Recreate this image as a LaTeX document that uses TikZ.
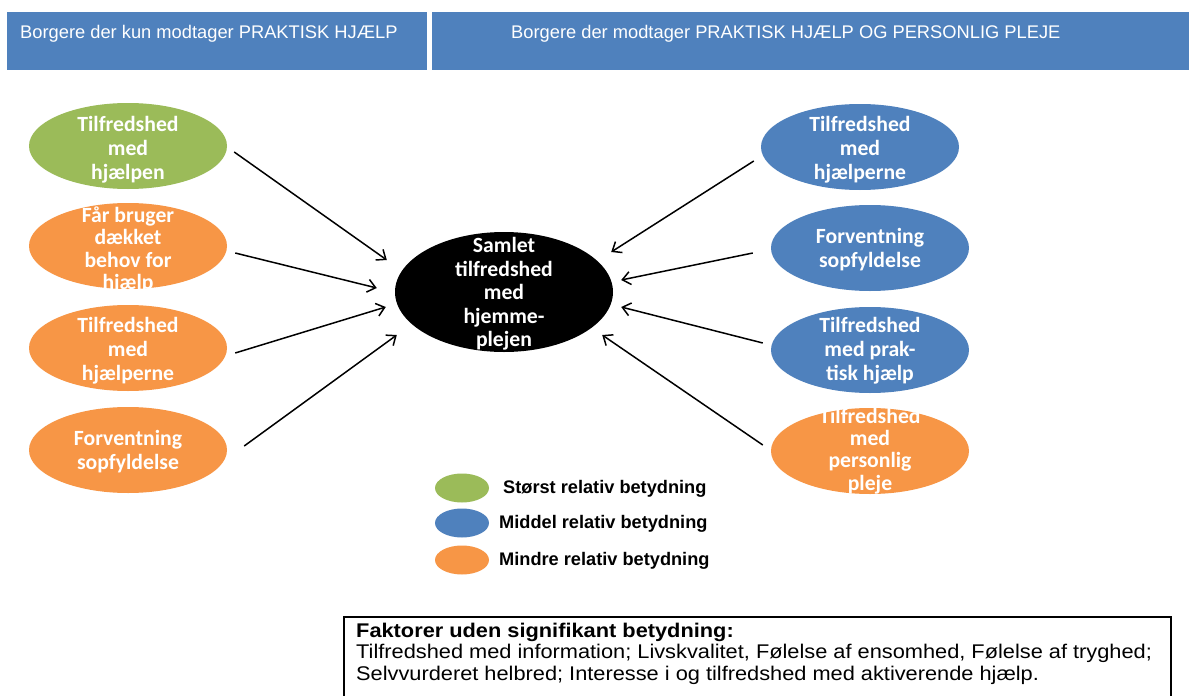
\documentclass[tikz,border=0pt]{standalone}
\usepackage{fontspec}
\setmainfont{Liberation Sans}
\newfontfamily\bubfont{Carlito}
\newfontfamily\notefont[FakeStretch=1.1]{Liberation Sans}
\usetikzlibrary{shapes.geometric,arrows.meta}
\definecolor{hgreen}{RGB}{155,187,89}
\definecolor{hblue}{RGB}{79,129,189}
\definecolor{horange}{RGB}{247,150,70}
\tikzset{
  headbar/.style={fill=hblue,draw=none},
  headtext/.style={anchor=base west,text=white,inner sep=0,font=\fontsize{18.3}{22}\selectfont},
  bub/.style={ellipse,draw=none,minimum width=198pt,minimum height=86pt,inner sep=0},
  bubtext/.style={text=white,align=center,inner sep=0,font=\bubfont\bfseries\fontsize{21.7}{24}\selectfont},
  bubtight/.style={bubtext,font=\bubfont\bfseries\fontsize{21.7}{22.4}\selectfont},
  flow/.style={-{Straight Barb[length=8pt,width=13pt]},line width=1.5pt,black},
  legdot/.style={ellipse,draw=none,minimum width=54pt,minimum height=29pt,inner sep=0},
  legtext/.style={anchor=west,inner sep=0,font=\bfseries\fontsize{18.2}{20}\selectfont},
  notetext/.style={anchor=base west,inner sep=0,font=\notefont\fontsize{19.8}{21.5}\selectfont},
}
\begin{document}
\begin{tikzpicture}[x=1pt,y=-1pt]
\useasboundingbox[fill=white] (0,0) rectangle (1189,696);

% column headers
\fill[headbar] (7,12) rectangle (427,70);
\fill[headbar] (432,12) rectangle (1189,70);
\node[headtext] (h1) at (20,38.5) {Borgere der kun modtager PRAKTISK HJÆLP};
\node[headtext] (h2) at (511,38.5) {Borgere der modtager PRAKTISK HJÆLP OG PERSONLIG PLEJE};

% central outcome
\node[bub,fill=black,minimum width=218pt,minimum height=120pt] (c) at (504,292) {};
\node[bubtext,font=\bubfont\bfseries\fontsize{21.7}{23.4}\selectfont] (ct) at ([yshift=-2]c.center) {Samlet\\tilfredshed\\med\\hjemme-\\plejen};

% left column: practical help only
\node[bub,fill=hgreen] (l1) at (128,146) {};
\node[bubtext] (l1t) at ([yshift=-3.5]l1.center) {Tilfredshed\\med\\hjælpen};
\node[bub,fill=horange] (l2) at (128,246) {};
\node[bubtight] (l2t) at ([yshift=-4]l2.center) {Får bruger\\dækket\\behov for\\hjælp};
\node[bub,fill=horange] (l3) at (128,348) {};
\node[bubtext] (l3t) at ([yshift=-3]l3.center) {Tilfredshed\\med\\hjælperne};
\node[bub,fill=horange] (l4) at (128,450) {};
\node[bubtext] (l4t) at ([yshift=-2]l4.center) {Forventning\\sopfyldelse};

% right column: practical help and personal care
\node[bub,fill=hblue] (r1) at (860,147) {};
\node[bubtext] (r1t) at ([yshift=-2.5]r1.center) {Tilfredshed\\med\\hjælperne};
\node[bub,fill=hblue] (r2) at (870,248) {};
\node[bubtext] (r2t) at ([yshift=-2]r2.center) {Forventning\\sopfyldelse};
\node[bub,fill=hblue] (r3) at (870,350) {};
\node[bubtext] (r3t) at ([yshift=-1]r3.center) {Tilfredshed\\med prak-\\tisk hjælp};
\node[bub,fill=horange] (r4) at (870,451) {};
\node[bubtight] (r4t) at (r4.center) {Tilfredshed\\med\\personlig\\pleje};

% influences on overall satisfaction
\draw[flow] ([shift={(7,6)}]l1.east) -- ([shift={(-8,-32)}]c.west);
\draw[flow] ([shift={(8,7)}]l2.east) -- ([shift={(-18,-4)}]c.west);
\draw[flow] ([shift={(8,5)}]l3.east) -- ([shift={(-9,15)}]c.west);
\draw[flow] ([shift={(17,-4)}]l4.east) -- ([shift={(2,43)}]c.west);
\draw[flow] ([shift={(-7,14)}]r1.west) -- ([shift={(-2,-40)}]c.east);
\draw[flow] ([shift={(-18,5)}]r2.west) -- ([shift={(8,-12)}]c.east);
\draw[flow] ([shift={(-8,-7)}]r3.west) -- ([shift={(8,15)}]c.east);
\draw[flow] ([shift={(-8,-6)}]r4.west) -- ([shift={(-11,43)}]c.east);

% legend
\node[legdot,fill=hgreen] (g1) at (462,488) {};
\node[legtext] (g1t) at (503,489) {Størst relativ betydning};
\node[legdot,fill=hblue] (g2) at (462,523) {};
\node[legtext] (g2t) at (499,524) {Middel relativ betydning};
\node[legdot,fill=horange] (g3) at (462,560) {};
\node[legtext] (g3t) at (499,561) {Mindre relativ betydning};

% non-significant factors
\draw[line width=2pt] (344,700) -- (344,617) -- (1171,617) -- (1171,700);
\node[notetext,font=\notefont\bfseries\fontsize{19.8}{21.5}\selectfont] (ns1) at (356,637) {Faktorer uden signifikant betydning:};
\node[notetext] (ns2) at (356,658.5) {Tilfredshed med information; Livskvalitet, Følelse af ensomhed, Følelse af tryghed;};
\node[notetext] (ns3) at (356,680) {Selvvurderet helbred; Interesse i og tilfredshed med aktiverende hjælp.};
\end{tikzpicture}
\end{document}
